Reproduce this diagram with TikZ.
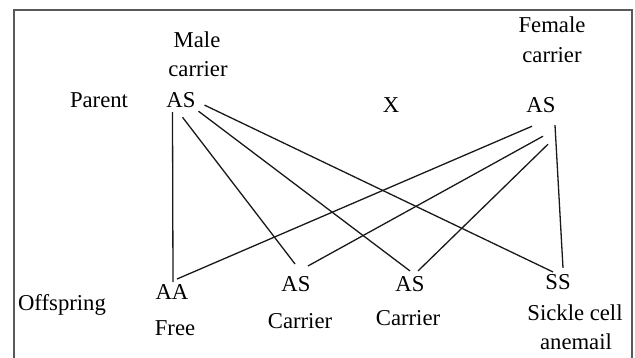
\documentclass[tikz,border=0pt]{standalone}
\usepackage{fontspec}
\setmainfont{Liberation Serif}
\usepackage{tikz}
\usetikzlibrary{positioning}

\tikzset{
	gene/.style={inner sep=2pt, outer sep=1pt, anchor=base},
	txt/.style={inner sep=0pt, anchor=base},
	cross/.style={line width=1.3pt, black!90}
}

\begin{document}
\begin{tikzpicture}[x=1pt, y=-1pt, font=\fontsize{22.7}{27}\selectfont]
		\useasboundingbox (0,0) rectangle (635,358);
		\draw[line width=1.2pt, black!65] (14,370) -- (14,10) -- (632,10) -- (632,370);

		% parents
		\node[txt] (male) at (197,48) {Male};
		\node[txt] (mcar) at (198,77) {carrier};
		\node[txt] (fem) at (552,33) {Female};
		\node[txt] (fcar) at (552,63) {carrier};
		\node[txt] (parent) at (99,108) {Parent};
		\node[gene] (mAS) at (181,108) {AS};
		\node[txt] (cross) at (391,113) {X};
		\node[gene] (fAS) at (541,113) {AS};

		% offspring
		\node[txt] (offs) at (62,311) {Offspring};
		\node[gene] (aa) at (172,300) {AA};
		\node[gene] (as1) at (296,291) {AS};
		\node[gene] (as2) at (410,291) {AS};
		\node[gene] (ss) at (558,290) {SS};
		\node[txt] (free) at (175,335) {Free};
		\node[txt] (car1) at (300,328) {Carrier};
		\node[txt] (car2) at (408,326) {Carrier};
		\node[txt] (sick) at (575,320) {Sickle cell};
		\node[txt] (anem) at (576,349) {anemail};

		% male lines
		\draw[cross] ([xshift=-8.5pt,yshift=-1pt]mAS.south) -- ([xshift=1pt]aa.north);
		\draw[cross] ([xshift=1.5pt,yshift=-6pt]mAS.south) -- ([xshift=-1pt,yshift=9pt]as1.north);
		\draw[cross] (mAS.south east) -- ([yshift=2pt]as2.north);
		\draw[cross] ([xshift=6pt,yshift=-4.5pt]mAS.east) -- ([xshift=-5pt]ss.north);

		% female lines
		\draw[cross] ([xshift=-9pt,yshift=-10pt]fAS.south) -- ([xshift=5pt,yshift=3pt]aa.north);
		\draw[cross] ([xshift=2pt,yshift=-20pt]fAS.south) -- ([xshift=12pt,yshift=7pt]as1.north);
		\draw[cross] ([xshift=7pt,yshift=-28pt]fAS.south) -- ([xshift=8pt,yshift=2pt]as2.north);
		\draw[cross] ([xshift=14pt,yshift=-9pt]fAS.south) -- ([xshift=5pt,yshift=4pt]ss.north);
\end{tikzpicture}
\end{document}
